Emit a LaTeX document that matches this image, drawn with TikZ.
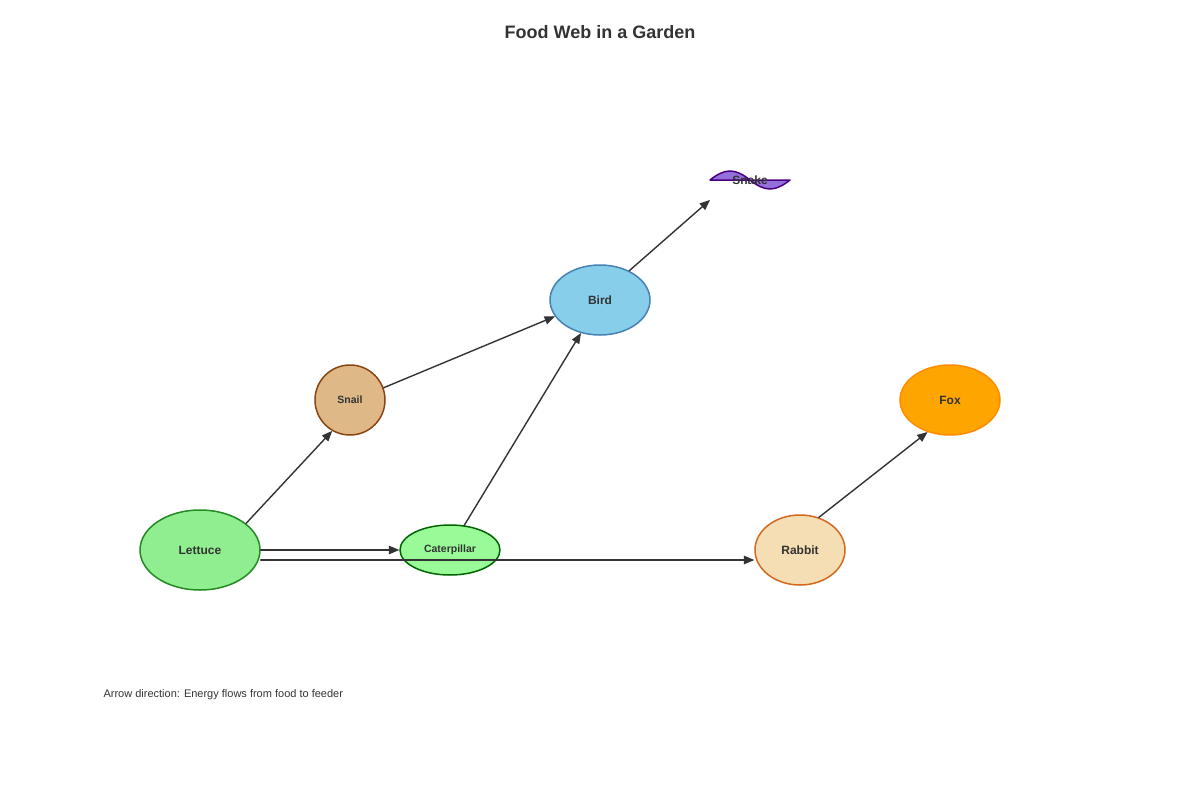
\documentclass[tikz,border=0pt]{standalone}
\usepackage{fontspec}
\setmainfont{Liberation Sans}
\usepackage{tikz}
\usetikzlibrary{arrows,shapes.geometric}
\definecolor{ink}{HTML}{333333}
\tikzset{
  org/.style={ellipse,draw,line width=1.5pt,text=ink,font=\bfseries\fontsize{12}{14}\selectfont,inner sep=0pt},
  feed/.style={->,draw=ink,line width=1.4pt}
}
\begin{document}
\begin{tikzpicture}[line cap=round,line join=round,>=triangle 45,x=1pt,y=-1pt]
\useasboundingbox (0,0) rectangle (1200,800);
\node[text=ink,font=\bfseries\fontsize{18}{22}\selectfont] (title) at (600,32) {Food Web in a Garden};
% organisms
\node[org,fill={rgb,255:red,144;green,238;blue,144},draw={rgb,255:red,34;green,139;blue,34},minimum width=120pt,minimum height=80pt] (lettuce) at (200,550) {Lettuce};
\node[org,fill={rgb,255:red,222;green,184;blue,135},draw={rgb,255:red,139;green,69;blue,19},minimum width=70pt,minimum height=70pt,font=\bfseries\fontsize{10.5}{12}\selectfont] (snail) at (350,400) {Snail};
\node[org,fill={rgb,255:red,152;green,251;blue,152},draw={rgb,255:red,0;green,100;blue,0},minimum width=100pt,minimum height=50pt,font=\bfseries\fontsize{10.5}{12}\selectfont] (caterpillar) at (450,550) {Caterpillar};
\node[org,fill={rgb,255:red,135;green,206;blue,235},draw={rgb,255:red,70;green,130;blue,180},minimum width=100pt,minimum height=70pt] (bird) at (600,300) {Bird};
\node[org,fill={rgb,255:red,245;green,222;blue,179},draw={rgb,255:red,210;green,105;blue,30},minimum width=90pt,minimum height=70pt] (rabbit) at (800,550) {Rabbit};
\node[org,fill={rgb,255:red,255;green,165;blue,0},draw={rgb,255:red,255;green,140;blue,0},minimum width=100pt,minimum height=70pt] (fox) at (950,400) {Fox};
% snake
\draw[line width=1.5pt,draw={rgb,255:red,75;green,0;blue,130},fill={rgb,255:red,147;green,112;blue,219}]
  (710,180) .. controls (725,168) and (735,168) .. (750,180)
  .. controls (765,192) and (775,192) .. (790,180) -- cycle;
\node[text=ink,font=\bfseries\fontsize{12}{14}\selectfont] (snake) at (750,180) {Snake};
% feeding links
\draw[feed] (lettuce.30) -- (snail.240);
\draw[feed] (lettuce.east) -- (caterpillar.west);
\draw[feed] ([yshift=-10pt]lettuce.east) -- ([yshift=-10pt]rabbit.west);
\draw[feed] (snail.20) -- (bird.200);
\draw[feed] (caterpillar.60) -- (bird.240);
\draw[feed] (bird.45) -- ([xshift=-40pt,yshift=-20pt]snake.center);
\draw[feed] (rabbit.60) -- (fox.235);
\node[anchor=west,text=ink,font=\fontsize{11}{13}\selectfont] (note) at (100,695) {Arrow direction: Energy flows from food to feeder};
\end{tikzpicture}
\end{document}
